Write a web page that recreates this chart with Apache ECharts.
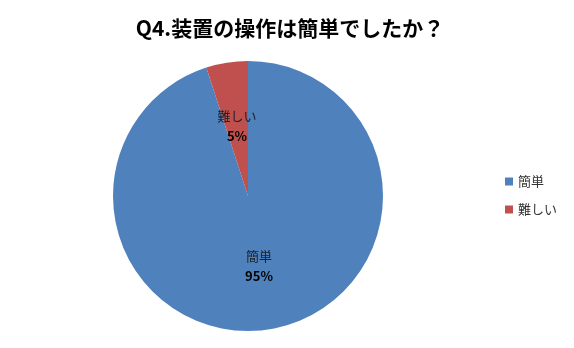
<!DOCTYPE html>
<html><head><meta charset="utf-8">
<script src="https://cdn.jsdelivr.net/npm/echarts@6/dist/echarts.min.js"></script>
<style>html,body{margin:0;padding:0;background:#fff}#c{width:574px;height:348px}</style>
</head><body><div id="c"></div>
<script>
const titleText = 'Q4.装置の操作は簡単でしたか？';
const categories = ['簡単', '難しい'];
const values = [95, 5];
const colors = ['#4F81BD', '#C0504D'];

const chart = echarts.init(document.getElementById('c'));
chart.setOption({
  animation: false,
  title: {
    text: titleText, left: 285, top: 13, textAlign: 'center',
    textStyle: { fontFamily: 'Noto Sans CJK JP', fontSize: 21, fontWeight: 'bold', color: '#000' }
  },
  legend: {
    orient: 'vertical', left: 500, top: 170, itemWidth: 8, itemHeight: 8, itemGap: 15,
    icon: 'rect',
    textStyle: { fontFamily: 'Noto Sans CJK JP', fontSize: 13, color: '#333' },
    data: categories
  },
  series: [{
    type: 'pie',
    center: [248, 196], radius: 135,
    startAngle: 90, clockwise: true,
    data: categories.map((c, i) => ({ name: c, value: values[i], itemStyle: { color: colors[i] } })),
    label: {
      position: 'inside',
      formatter: p => '{n|' + p.name + '}\n{v|' + Math.round(p.percent) + '%}',
      rich: {
        n: { fontFamily: 'Noto Sans CJK JP', fontSize: 13, color: '#222', lineHeight: 20 },
        v: { fontFamily: 'Noto Sans CJK JP', fontSize: 13, fontWeight: 'bold', color: '#000', lineHeight: 20 }
      }
    },
    labelLine: { show: false },
    itemStyle: { borderWidth: 0 },
    emphasis: { disabled: true }
  }]
});
</script></body></html>
